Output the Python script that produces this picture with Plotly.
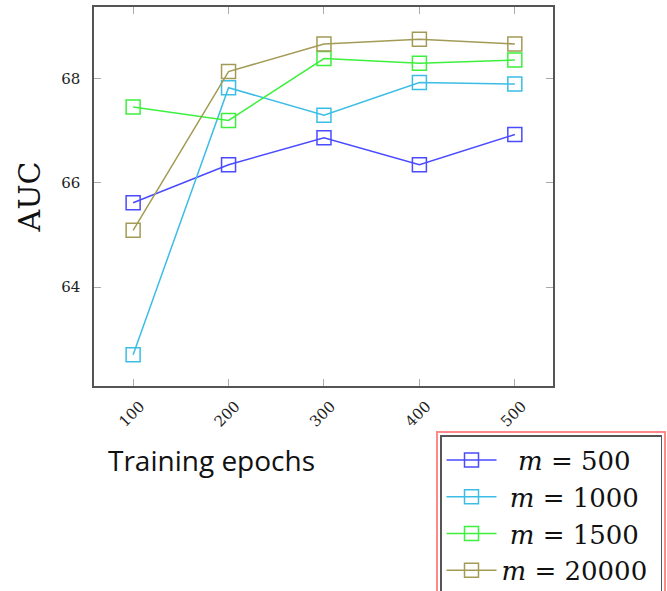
import plotly.graph_objects as go

epochs = [100, 200, 300, 400, 500]
auc_m500 = [65.62, 66.35, 66.87, 66.35, 66.93]
auc_m1000 = [62.70, 67.83, 67.30, 67.93, 67.90]
auc_m1500 = [67.46, 67.20, 68.39, 68.30, 68.36]
auc_m20000 = [65.09, 68.14, 68.67, 68.76, 68.67]
series_names = ["\u00a0\u00a0<i>m</i> = 500\u00a0", "\u00a0<i>m</i> = 1000\u00a0", "\u00a0<i>m</i> = 1500\u00a0", "<i>m</i> = 20000\u00a0"]
series_colors = ["#4a4aff", "#3cbde6", "#3cf03c", "#a39b55"]
y_ticks = [64, 66, 68]

fig = go.Figure()
for vals, name, col in zip([auc_m500, auc_m1000, auc_m1500, auc_m20000], series_names, series_colors):
    fig.add_trace(go.Scatter(
        x=epochs, y=vals, name=name, mode="lines+markers",
        line=dict(color=col, width=1.5),
        marker=dict(symbol="square-open", size=14, color=col, line=dict(width=1.5, color=col)),
    ))

L, R, T, B = 94, 114, 7, 205
W, H = 667, 591
pw, ph = W - L - R, H - T - B

def px_x(p):
    return (p - L) / pw

def px_y(p):
    return (H - B - p) / ph

fig.update_layout(
    width=W, height=H,
    margin=dict(l=L, r=R, t=T, b=B, pad=0, autoexpand=False),
    paper_bgcolor="white", plot_bgcolor="white",
    showlegend=True,
    legend=dict(
        xref="container", yref="container",
        x=440 / W, y=(H - 435) / H, xanchor="left", yanchor="top",
        font=dict(family="DejaVu Serif", size=26, color="#111"),
        bordercolor="#555", borderwidth=1.5, bgcolor="white",
        tracegroupgap=0, itemwidth=50,
    ),
    xaxis=dict(
        range=[59, 540], tickvals=epochs, ticktext=[str(e) for e in epochs],
        tickangle=-45, ticks="inside", ticklen=7, tickcolor="#aaa", tickwidth=1,
        showline=True, linecolor="#555", linewidth=1.5, mirror="ticks",
        showgrid=False, zeroline=False, automargin=False,
        ticklabelshift=7, ticklabelstandoff=4,
        tickfont=dict(family="DejaVu Serif", size=15, color="#222"),
    ),
    yaxis=dict(
        range=[62.1, 69.38], tickvals=y_ticks, ticktext=[str(v) for v in y_ticks],
        ticks="inside", ticklen=7, tickcolor="#aaa", tickwidth=1,
        showline=True, linecolor="#555", linewidth=1.5, mirror="ticks",
        showgrid=False, zeroline=False, automargin=False,
        ticklabelstandoff=9,
        tickfont=dict(family="DejaVu Serif", size=15, color="#222"),
        title=dict(text="AUC", font=dict(family="DejaVu Serif", size=30, color="#111"), standoff=12),
    ),
    annotations=[dict(
        text="Training epochs", xref="paper", yref="paper",
        x=px_x(211), y=px_y(460), xanchor="center", yanchor="middle",
        showarrow=False, font=dict(family="Open Sans", size=28, color="#111"),
    )],
    shapes=[dict(
        type="rect", xref="paper", yref="paper",
        x0=px_x(437), x1=px_x(665), y0=px_y(432), y1=px_y(620),
        line=dict(color="#ff8888", width=2), layer="below",
    )],
)

fig.write_html("out.html")
